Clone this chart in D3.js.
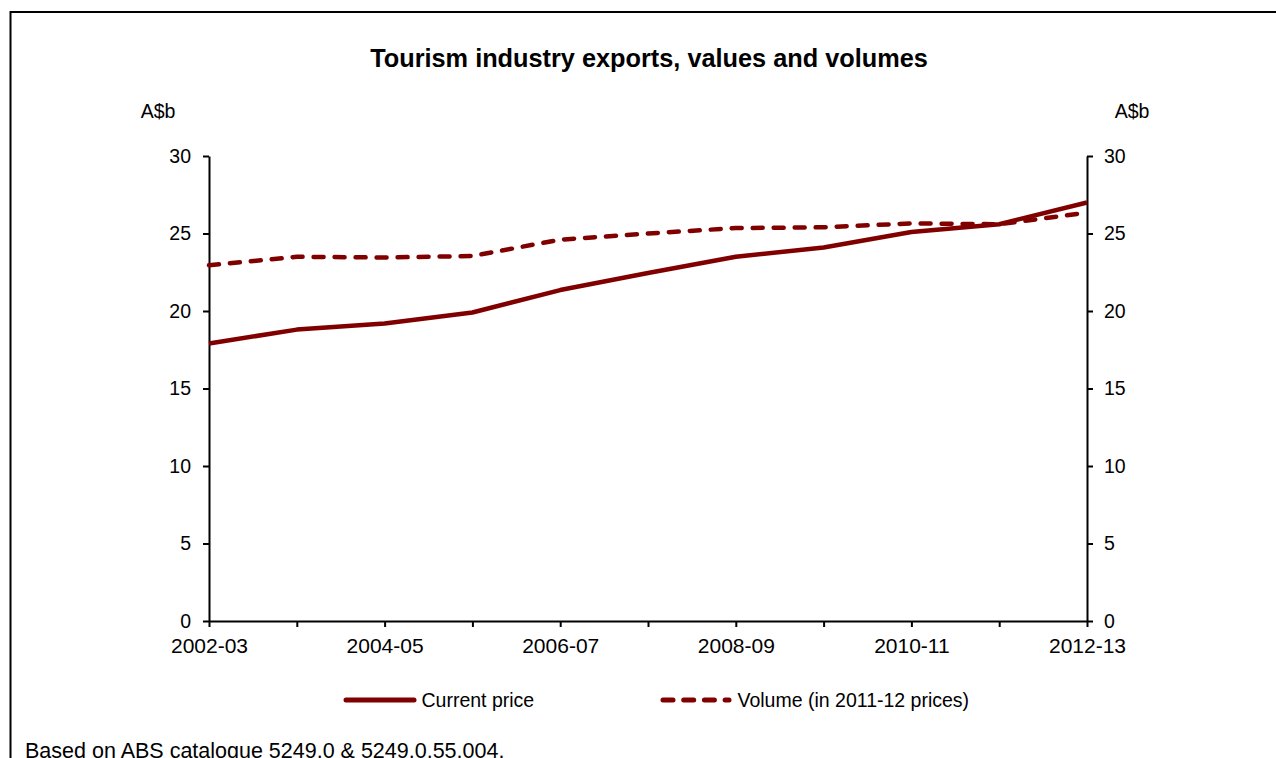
<!DOCTYPE html>
<html><head><meta charset="utf-8">
<script src="https://cdn.jsdelivr.net/npm/d3@7"></script>
<style>body{margin:0;background:#fff;} text{font-family:"Liberation Sans",Arial,sans-serif;}</style>
</head><body>
<svg id="c" width="1276" height="758"></svg>
<script>
const categories = ["2002-03","2003-04","2004-05","2005-06","2006-07","2007-08","2008-09","2009-10","2010-11","2011-12","2012-13"];
const currentPrice = [17.9, 18.8, 19.2, 19.9, 21.35, 22.45, 23.5, 24.1, 25.1, 25.6, 27.0];
const volume = [22.95, 23.5, 23.45, 23.55, 24.6, 25.0, 25.35, 25.4, 25.65, 25.6, 26.35];
const xTickLabels = ["2002-03","2004-05","2006-07","2008-09","2010-11","2012-13"];
const yTicks = [0,5,10,15,20,25,30];

const svg = d3.select("#c");
const color = "#800000";
const L = 209, R = 1087, T = 156, B = 621;
const x = d3.scalePoint().domain(categories).range([L, R]);
const y = d3.scaleLinear().domain([0, 30]).range([B, T]);

// border
svg.append("rect").attr("x", 10.5).attr("y", 12).attr("width", 1300).attr("height", 800)
  .attr("fill", "none").attr("stroke", "#000").attr("stroke-width", 2);

// title
svg.append("text").attr("x", 649).attr("y", 67).attr("text-anchor", "middle")
  .attr("font-size", 25.3).attr("font-weight", "bold").text("Tourism industry exports, values and volumes");
svg.append("text").attr("x", 158).attr("y", 118).attr("text-anchor", "middle").attr("font-size", 19.5).text("A$b");
svg.append("text").attr("x", 1132).attr("y", 118).attr("text-anchor", "middle").attr("font-size", 19.5).text("A$b");

function styleAxis(g, fs){
  g.select(".domain").attr("stroke", "#000").attr("stroke-width", 2);
  g.selectAll(".tick line").attr("stroke", "#000").attr("stroke-width", 2);
  g.selectAll(".tick text").attr("font-size", fs).attr("fill", "#000")
    .attr("font-family", "Liberation Sans, Arial, sans-serif");
}
const yl = svg.append("g").attr("transform", `translate(${L},0)`)
  .call(d3.axisLeft(y).tickValues(yTicks).tickSize(6).tickSizeOuter(0).tickPadding(12));
styleAxis(yl, 19.5);
const yr = svg.append("g").attr("transform", `translate(${R},0)`)
  .call(d3.axisRight(y).tickValues(yTicks).tickSize(6).tickSizeOuter(0).tickPadding(11));
styleAxis(yr, 19.5);
const xa = svg.append("g").attr("transform", `translate(0,${B})`)
  .call(d3.axisBottom(x).tickSize(6).tickSizeOuter(0).tickPadding(11)
    .tickFormat(d => xTickLabels.includes(d) ? d : ""));
styleAxis(xa, 21);

const line = d3.line().x((d, i) => x(categories[i])).y(d => y(d));
svg.append("path").datum(volume).attr("d", line).attr("fill", "none").attr("stroke", color)
  .attr("stroke-width", 4.5).attr("stroke-dasharray", "10,11").attr("stroke-linecap", "round");
svg.append("path").datum(currentPrice).attr("d", line).attr("fill", "none").attr("stroke", color)
  .attr("stroke-width", 4.5).attr("stroke-linejoin", "round");

// legend
svg.append("line").attr("x1", 346).attr("x2", 414).attr("y1", 700).attr("y2", 700)
  .attr("stroke", color).attr("stroke-width", 5).attr("stroke-linecap", "round");
svg.append("text").attr("x", 421.5).attr("y", 706.5).attr("font-size", 19.5).text("Current price");
svg.append("line").attr("x1", 663).attr("x2", 729).attr("y1", 700).attr("y2", 700)
  .attr("stroke", color).attr("stroke-width", 5).attr("stroke-linecap", "round").attr("stroke-dasharray", "10,10.7");
svg.append("text").attr("x", 737.5).attr("y", 706.5).attr("font-size", 19.5).text("Volume (in 2011-12 prices)");

svg.append("text").attr("x", 25).attr("y", 758).attr("font-size", 21.5).text("Based on ABS catalogue 5249.0 & 5249.0.55.004.");
</script>
</body></html>
